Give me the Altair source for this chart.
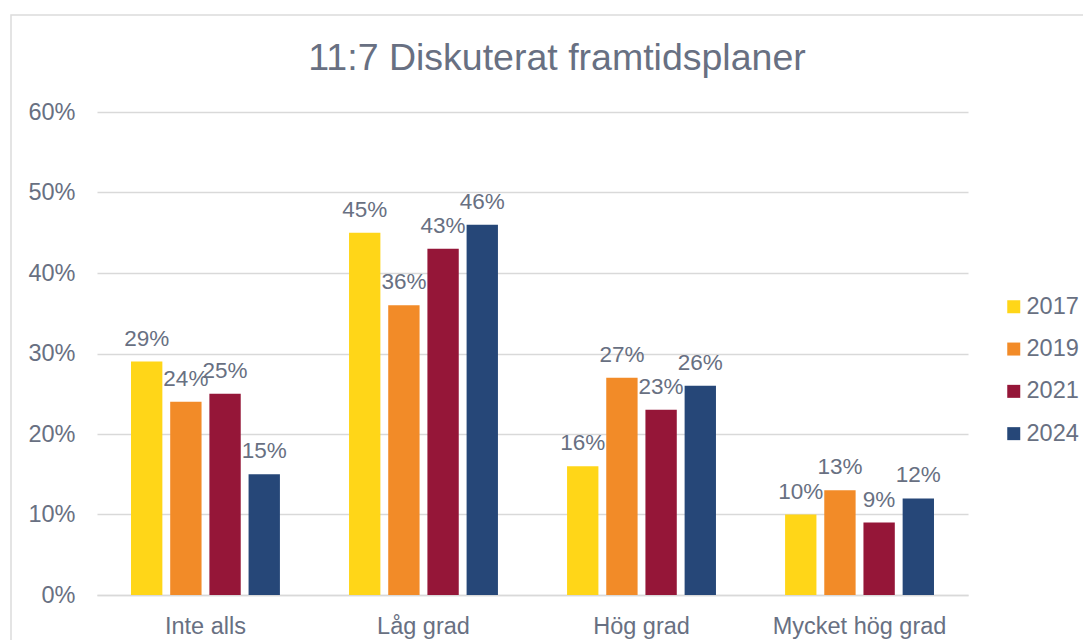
import altair as alt
import pandas as pd

title_text = "11:7 Diskuterat framtidsplaner"
categories = ["Inte alls", "Låg grad", "Hög grad", "Mycket hög grad"]
years = ["2017", "2019", "2021", "2024"]
values = {
    "2017": [29, 45, 16, 10],
    "2019": [24, 36, 27, 13],
    "2021": [25, 43, 23, 9],
    "2024": [15, 46, 26, 12],
}
colors = ["#FFD618", "#F28B28", "#951638", "#264778"]

rows = []
for y in years:
    for c, v in zip(categories, values[y]):
        rows.append({"kategori": c, "år": y, "v": v / 100, "lbl": f"{v}%"})
df = pd.DataFrame(rows)

txt = "#687082"
font = "Liberation Sans"

base = alt.Chart(df).encode(
    x=alt.X("kategori:N", sort=categories, title=None,
            scale=alt.Scale(paddingInner=0.317, paddingOuter=0.156),
            axis=alt.Axis(labelAngle=0, labelFontSize=23.5, labelColor=txt, labelFont=font,
                          labelPadding=19, ticks=False, domainColor="#d9d9d9", domainWidth=1.5)),
    xOffset=alt.XOffset("år:N", sort=years, scale=alt.Scale(paddingInner=0.2, paddingOuter=0)),
)

bars = base.mark_bar().encode(
    y=alt.Y("v:Q", title=None,
            scale=alt.Scale(domain=[0, 0.6]),
            axis=alt.Axis(format="%", values=[0, 0.1, 0.2, 0.3, 0.4, 0.5, 0.6], labelFontSize=23.5,
                          labelColor=txt, labelFont=font, labelPadding=22, ticks=False,
                          domain=False, gridColor="#d9d9d9", gridWidth=1.5)),
    color=alt.Color("år:N", sort=years, scale=alt.Scale(domain=years, range=colors),
                    legend=alt.Legend(title=None, orient="none", legendX=905, legendY=183,
                                      symbolType="square", symbolSize=169, symbolStrokeWidth=0,
                                      symbolOpacity=1,
                                      labelFontSize=23.5, labelColor=txt, labelFont=font,
                                      rowPadding=17.3, labelOffset=1)),
)

labels = base.mark_text(baseline="alphabetic", dy=-16, fontSize=22.5, color=txt, font=font).encode(
    y="v:Q", text="lbl:N"
)

one = pd.DataFrame({"t": [title_text]})

frame = alt.Chart(one).mark_rect(
    fill=None, stroke="#dcdcdc", strokeWidth=1.5
).encode(
    x=alt.value(-86), x2=alt.value(1010), y=alt.value(-97), y2=alt.value(560)
)

title = alt.Chart(one).mark_text(
    fontSize=37.5, color=txt, font=font, align="center", baseline="alphabetic"
).encode(
    x=alt.value(460), y=alt.value(-42), text="t:N"
)

chart = (frame + bars + labels + title).properties(
    width=871, height=483,
    padding={"left": 89, "top": 104, "right": 115, "bottom": 45},
    autosize=alt.AutoSizeParams(type="none"),
).configure_view(stroke=None)

chart.save("out.html", embed_options={"renderer": "svg", "actions": False})
